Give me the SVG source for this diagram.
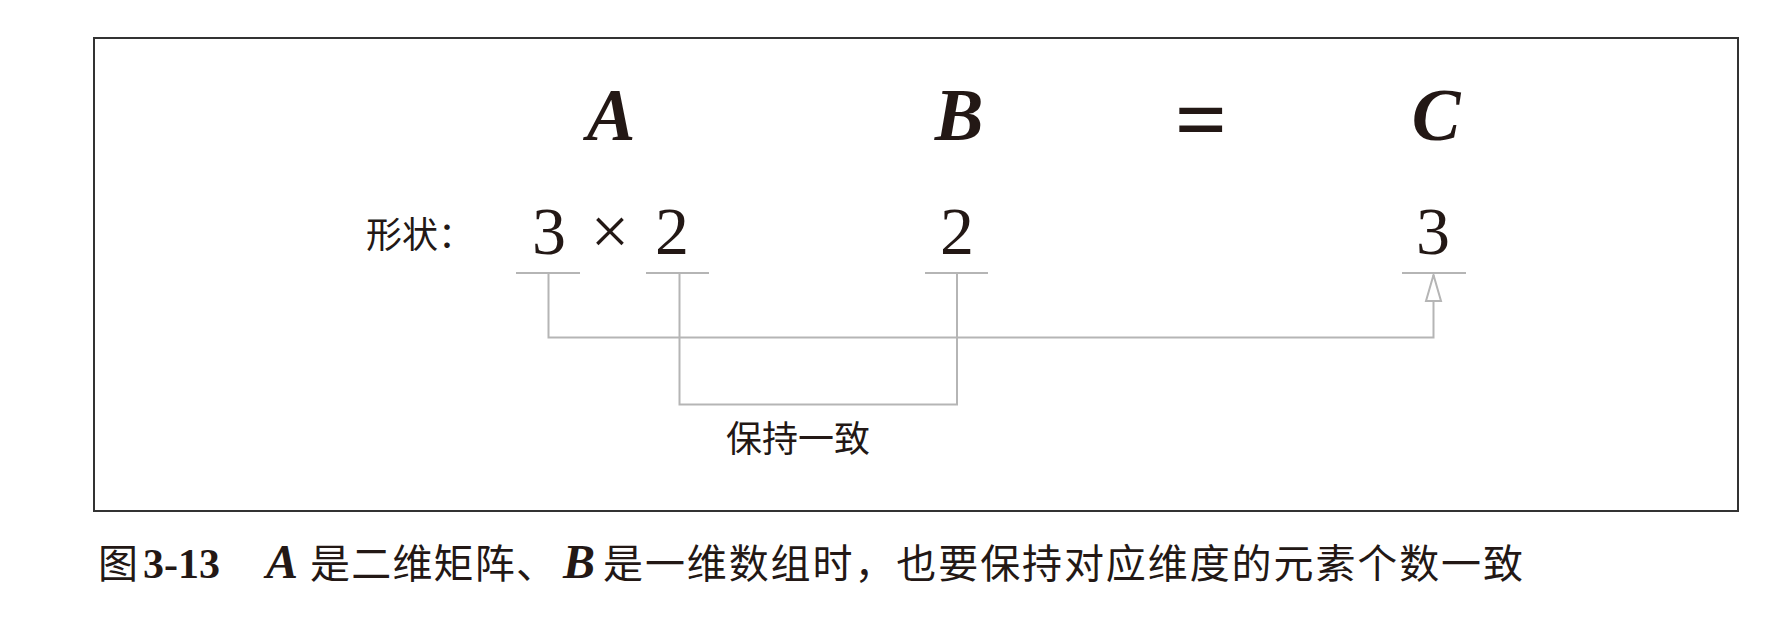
<svg xmlns="http://www.w3.org/2000/svg" width="1785" height="637" viewBox="0 0 1785 637">
  <style>
    .math { font-family: "Liberation Serif", "DejaVu Serif", serif; font-weight: bold; font-style: italic; font-size: 73px; fill: #231815; text-anchor: middle; }
    .eq { font-family: "Liberation Serif", "DejaVu Serif", serif; font-weight: bold; font-size: 92px; fill: #231815; text-anchor: middle; }
    .num { font-family: "Liberation Serif", "DejaVu Serif", serif; font-size: 68px; fill: #231815; text-anchor: middle; }
    .cjk { font-family: "Noto Sans CJK SC", "Noto Sans", sans-serif; font-size: 36px; fill: #231815; }
    .cap { font-family: "Noto Sans CJK SC", "Noto Sans", sans-serif; font-size: 40px; fill: #231815; }
    .capnum { font-family: "Liberation Serif", serif; font-weight: bold; font-size: 42px; fill: #231815; }
    .capmath { font-family: "Liberation Serif", serif; font-weight: bold; font-style: italic; font-size: 48px; fill: #231815; }
    .conn { fill: none; stroke: #b5b5b5; stroke-width: 2; }
    .frame { fill: none; stroke: #333333; stroke-width: 2; }
  </style>
  <defs>
    <marker id="openArrow" markerUnits="userSpaceOnUse" markerWidth="34" markerHeight="20" viewBox="0 0 34 20" refX="31" refY="10" orient="auto">
      <path d="M31,10 L5,2.5 L5,17.5 Z" fill="#ffffff" stroke="#b5b5b5" stroke-width="2"/>
    </marker>
  </defs>
  <rect width="1785" height="637" fill="#ffffff"/>
  <rect class="frame" x="94" y="38" width="1644" height="473"/>

  <g id="nodeA">
    <text class="math" x="611" y="140">A</text>
    <text class="num" x="549" y="254">3</text>
    <text class="num" x="610" y="254">×</text>
    <text class="num" x="672" y="254">2</text>
  </g>
  <g id="nodeB">
    <text class="math" x="959" y="140">B</text>
    <text class="num" x="957" y="254">2</text>
  </g>
  <g id="nodeEq">
    <text class="eq" x="1201" y="150">=</text>
  </g>
  <g id="nodeC">
    <text class="math" x="1436" y="140">C</text>
    <text class="num" x="1433" y="254">3</text>
  </g>
  <g id="shapeLabel">
    <text class="cjk" x="366" y="248">形状：</text>
  </g>
  <g id="keepLabel">
    <text class="cjk" x="726" y="452">保持一致</text>
  </g>

  <g id="connectors">
    <line class="conn" x1="516" y1="273" x2="580" y2="273"/>
    <line class="conn" x1="646" y1="273" x2="709" y2="273"/>
    <line class="conn" x1="925" y1="273" x2="988" y2="273"/>
    <line class="conn" x1="1402" y1="273" x2="1466" y2="273"/>
    <path class="conn" d="M548.5,273 V337.5 H1433.5 V275" marker-end="url(#openArrow)"/>
    <path class="conn" d="M679.5,273 V404.5 H957 V273"/>
  </g>

  <g id="caption">
    <text class="cap" x="98" y="578">图</text>
    <text class="capnum" x="143" y="578">3-13</text>
    <text class="capmath" x="266" y="578">A</text>
    <text class="cap" x="310" y="578" textLength="246" lengthAdjust="spacing">是二维矩阵、</text>
    <text class="capmath" x="563" y="578">B</text>
    <text class="cap" x="603" y="578" textLength="920" lengthAdjust="spacing">是一维数组时，也要保持对应维度的元素个数一致</text>
  </g>
</svg>
